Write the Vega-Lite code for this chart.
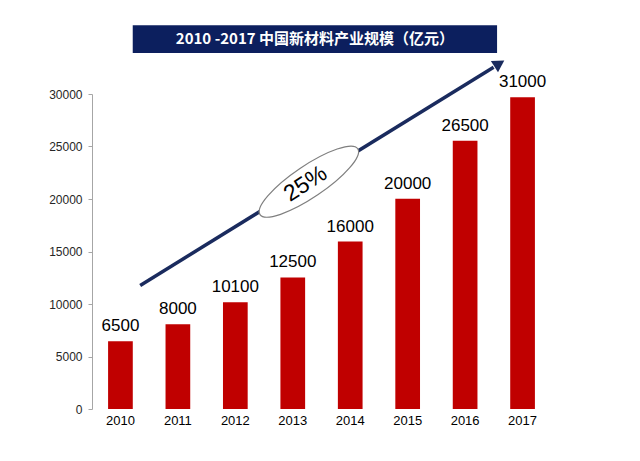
{
  "$schema": "https://vega.github.io/schema/vega-lite/v6.json",
  "autosize": "none",
  "width": 459,
  "height": 315,
  "padding": {"left": 92, "top": 94, "right": 89, "bottom": 52},
  "background": "white",
  "config": {"view": {"stroke": null}, "font": "Liberation Sans"},
  "datasets": {
    "bars": [
      {"year": "2010", "value": 6460, "label": "6500"},
      {"year": "2011", "value": 8070, "label": "8000"},
      {"year": "2012", "value": 10160, "label": "10100"},
      {"year": "2013", "value": 12530, "label": "12500"},
      {"year": "2014", "value": 15950, "label": "16000"},
      {"year": "2015", "value": 20030, "label": "20000"},
      {"year": "2016", "value": 25540, "label": "26500"},
      {"year": "2017", "value": 29700, "label": "31000"}
    ],
    "arrow": [
      {"x": 2010.34, "y": 11770},
      {"x": 2016.5, "y": 32550}
    ],
    "arrowhead": [{"x": 2016.6, "y": 32900}],
    "ellipse": [{"x": 2013.28, "y": 21650, "text": "25%"}],
    "banner": [{"x1": 2010.21, "x2": 2016.56, "y1": 33900, "y2": 36550, "xm": 2013.385, "ym": 35220, "text": "2010 -2017 中国新材料产业规模（亿元）"}]
  },
  "layer": [
    {
      "layer": [
        {
          "data": {"name": "bars"},
          "mark": {"type": "bar", "color": "#c00000"},
          "encoding": {
            "x": {
              "field": "year", "type": "nominal", "sort": null,
              "scale": {"paddingInner": 0.57, "paddingOuter": 0.28},
              "axis": {"title": null, "labelAngle": 0, "domain": false, "ticks": false, "labelFontSize": 13, "labelColor": "#000000", "labelPadding": 5}
            },
            "y": {
              "field": "value", "type": "quantitative",
              "scale": {"domain": [0, 30000], "nice": false},
              "axis": {"title": null, "grid": false, "values": [0, 5000, 10000, 15000, 20000, 25000, 30000], "domainColor": "#a6a6a6", "tickColor": "#a6a6a6", "tickSize": 4, "labelFontSize": 12, "labelColor": "#262626", "labelPadding": 6, "format": "d"}
            }
          }
        },
        {
          "data": {"name": "bars"},
          "mark": {"type": "text", "fontSize": 17, "baseline": "bottom", "dy": -6, "color": "#000000"},
          "encoding": {
            "x": {"field": "year", "type": "nominal", "sort": null},
            "y": {"field": "value", "type": "quantitative"},
            "text": {"field": "label"}
          }
        }
      ]
    },
    {
      "layer": [
        {
          "data": {"name": "arrow"},
          "mark": {"type": "line", "color": "#1a2b5e", "strokeWidth": 3.5, "clip": false},
          "encoding": {
            "x": {"field": "x", "type": "quantitative", "scale": {"domain": [2009.5, 2017.5], "nice": false, "zero": false}, "axis": null},
            "y": {"field": "y", "type": "quantitative"}
          }
        },
        {
          "data": {"name": "arrowhead"},
          "mark": {"type": "point", "shape": "triangle-up", "filled": true, "color": "#1a2b5e", "size": 180, "angle": 58, "opacity": 1, "clip": false},
          "encoding": {
            "x": {"field": "x", "type": "quantitative"},
            "y": {"field": "y", "type": "quantitative"}
          }
        },
        {
          "data": {"name": "ellipse"},
          "mark": {"type": "point", "shape": "M -1 0 A 1 0.27 0 1 0 1 0 A 1 0.27 0 1 0 -1 0 Z", "filled": false, "fill": "white", "fillOpacity": 1, "stroke": "#7f7f7f", "strokeWidth": 1.2, "opacity": 1, "size": 13900, "angle": -34, "clip": false},
          "encoding": {
            "x": {"field": "x", "type": "quantitative"},
            "y": {"field": "y", "type": "quantitative"}
          }
        },
        {
          "data": {"name": "ellipse"},
          "mark": {"type": "text", "fontSize": 23, "angle": 327, "color": "#000000", "dx": -4, "clip": false},
          "encoding": {
            "x": {"field": "x", "type": "quantitative"},
            "y": {"field": "y", "type": "quantitative"},
            "text": {"field": "text"}
          }
        },
        {
          "data": {"name": "banner"},
          "mark": {"type": "rect", "color": "#0c1f5e", "clip": false},
          "encoding": {
            "x": {"field": "x1", "type": "quantitative"},
            "x2": {"field": "x2"},
            "y": {"field": "y1", "type": "quantitative"},
            "y2": {"field": "y2"}
          }
        },
        {
          "data": {"name": "banner"},
          "mark": {"type": "text", "fontSize": 15, "fontWeight": "bold", "color": "white", "font": "Noto Sans CJK SC", "clip": false},
          "encoding": {
            "x": {"field": "xm", "type": "quantitative"},
            "y": {"field": "ym", "type": "quantitative"},
            "text": {"field": "text"}
          }
        }
      ]
    }
  ],
  "resolve": {"scale": {"x": "independent", "y": "shared"}}
}
